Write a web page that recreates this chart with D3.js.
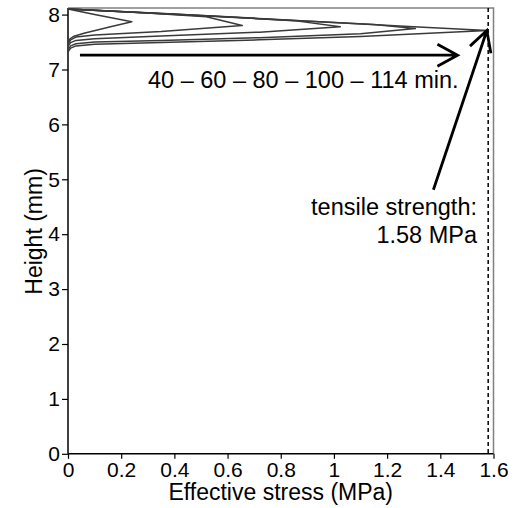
<!DOCTYPE html>
<html>
<head>
<meta charset="utf-8">
<script src="https://cdn.jsdelivr.net/npm/d3@7"></script>
<style>
	body { margin: 0; background: #fff; }
	svg text { font-family: "Liberation Sans", Arial, sans-serif; fill: #000; }
</style>
</head>
<body>
<svg id="chart" width="517" height="508"></svg>
<script>
// stress profiles [stress MPa, height mm], one per drying time
const times = [40, 60, 80, 100, 114];
const curve40 = [[0, 8.1], [0.1, 8.0], [0.24, 7.87], [0.16, 7.78], [0.06, 7.66], [0.02, 7.6], [0.008, 7.56], [0, 7.5]];
const curve60 = [[0, 8.1], [0.3, 8.03], [0.52, 7.96], [0.655, 7.8], [0.35, 7.69], [0.1, 7.63], [0.03, 7.59], [0.01, 7.54], [0, 7.46]];
const curve80 = [[0, 8.1], [0.4, 8.01], [0.85, 7.89], [1.024, 7.78], [0.72, 7.68], [0.35, 7.61], [0.1, 7.56], [0.03, 7.53], [0.01, 7.49], [0, 7.42]];
const curve100 = [[0, 8.1], [0.5, 7.98], [1.15, 7.82], [1.306, 7.745], [1.1, 7.65], [0.72, 7.58], [0.35, 7.53], [0.1, 7.5], [0.03, 7.47], [0.01, 7.43], [0, 7.36]];
const curve114 = [[0, 8.1], [0.6, 7.96], [1.3, 7.78], [1.577, 7.71], [1.1, 7.6], [0.72, 7.54], [0.35, 7.49], [0.1, 7.46], [0.03, 7.43], [0.01, 7.39], [0, 7.32]];
const curves = [curve40, curve60, curve80, curve100, curve114];

const xTicks = [0, 0.2, 0.4, 0.6, 0.8, 1, 1.2, 1.4, 1.6];
const yTicks = [0, 1, 2, 3, 4, 5, 6, 7, 8];
const tensileStrength = 1.58;
const timeArrow = [[0.045, 7.26], [1.465, 7.26]];
const strengthArrow = [[1.374, 4.81], [1.575, 7.71]];

const svg = d3.select('#chart');
const margin = { top: 8, right: 23.5, bottom: 54.2, left: 68 };
const W = 517 - margin.left - margin.right;
const H = 508 - margin.top - margin.bottom;

const x = d3.scaleLinear().domain([0, 1.6]).range([0, W]);
const y = d3.scaleLinear().domain([0, 8.12]).range([H, 0]);

const g = svg.append('g').attr('transform', `translate(${margin.left},${margin.top})`);

// frame (top and right in grey)
g.append('path')
	.attr('d', `M0,0H${W}V${H}`)
	.attr('fill', 'none').attr('stroke', '#808080').attr('stroke-width', 1.5);

const xAxis = g.append('g').attr('transform', `translate(0,${H})`)
	.call(d3.axisBottom(x).tickValues(xTicks).tickFormat(d3.format('')).tickSizeOuter(0).tickSize(5).tickPadding(3));
const yAxis = g.append('g')
	.call(d3.axisLeft(y).tickValues(yTicks).tickSizeOuter(0).tickSize(6).tickPadding(2));
[xAxis, yAxis].forEach(a => {
	a.select('.domain').attr('stroke', '#000').attr('stroke-width', 1.5);
	a.selectAll('.tick line').attr('stroke', '#000').attr('stroke-width', 1.2);
	a.selectAll('text').attr('font-size', 21).attr('font-family', '"Liberation Sans", Arial, sans-serif');
});
yAxis.select('.domain').attr('d', `M0,${H}V0`);
xAxis.select('.domain').attr('d', `M0,0H${W}`);

// tensile strength line
g.append('line')
	.attr('x1', x(tensileStrength)).attr('x2', x(tensileStrength))
	.attr('y1', 0).attr('y2', H)
	.attr('stroke', '#000').attr('stroke-width', 1.5).attr('stroke-dasharray', '4,3');

const line = d3.line().x(d => x(d[0])).y(d => y(d[1]));
g.append('g').selectAll('path')
	.data(curves).enter().append('path')
	.attr('d', line)
	.attr('fill', 'none').attr('stroke', '#3a3a3a').attr('stroke-width', 1.5)
	.attr('stroke-linejoin', 'round');

// arrows with open heads
function arrow(pts) {
	const [p0, p1] = pts.map(p => [x(p[0]), y(p[1])]);
	const ang = Math.atan2(p1[1] - p0[1], p1[0] - p0[0]);
	const len = 23, spread = 0.5;
	const a1 = [p1[0] - len * Math.cos(ang - spread), p1[1] - len * Math.sin(ang - spread)];
	const a2 = [p1[0] - len * Math.cos(ang + spread), p1[1] - len * Math.sin(ang + spread)];
	g.append('path')
		.attr('d', `M${p0}L${p1}M${a1}L${p1}L${a2}`)
		.attr('fill', 'none').attr('stroke', '#000').attr('stroke-width', 2.8);
}
arrow(timeArrow);
arrow(strengthArrow);

g.append('text')
	.attr('x', 148 - margin.left).attr('y', y(7.26) + 33)
	.attr('text-anchor', 'start').attr('font-size', 23.5)
	.text(times.join(' \u2013 ') + ' min.');

g.append('text')
	.attr('x', 477 - margin.left).attr('y', 215 - margin.top)
	.attr('text-anchor', 'end').attr('font-size', 23.5)
	.text('tensile strength:');
g.append('text')
	.attr('x', 477 - margin.left).attr('y', 243 - margin.top)
	.attr('text-anchor', 'end').attr('font-size', 23.5)
	.text(tensileStrength + ' MPa');

svg.append('text')
	.attr('x', margin.left + x(0.8)).attr('y', 500)
	.attr('text-anchor', 'middle').attr('font-size', 23)
	.text('Effective stress (MPa)');
svg.append('text')
	.attr('transform', `translate(42,${margin.top + y(4.05)}) rotate(-90)`)
	.attr('text-anchor', 'middle').attr('font-size', 23)
	.text('Height (mm)');
</script>
</body>
</html>
